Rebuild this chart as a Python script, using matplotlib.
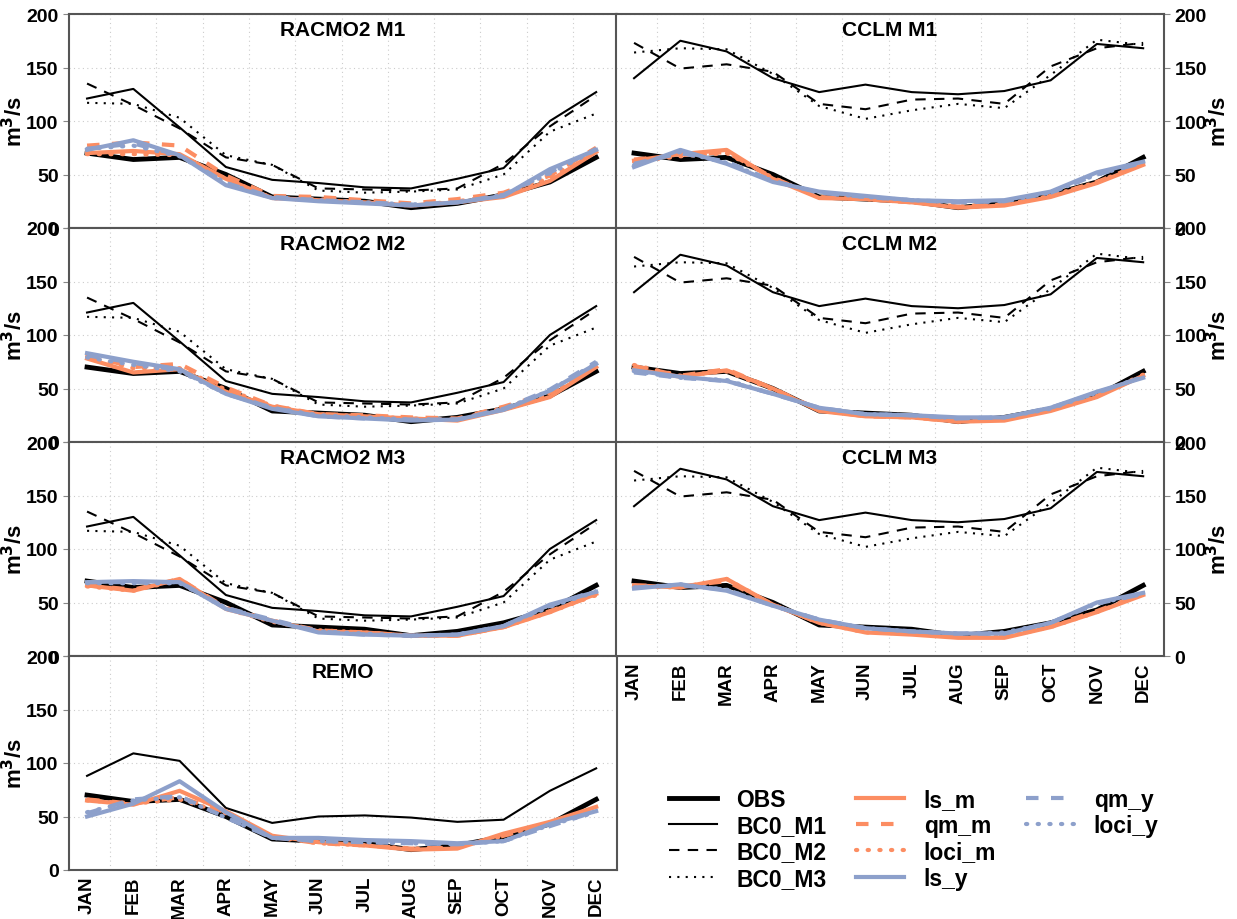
import numpy as np
import matplotlib
matplotlib.use("Agg")
import matplotlib.pyplot as plt
from matplotlib.lines import Line2D

plt.rcParams["font.family"] = ["Liberation Sans", "DejaVu Sans"]
plt.rcParams["font.weight"] = "bold"

months = ["JAN", "FEB", "MAR", "APR", "MAY", "JUN", "JUL", "AUG", "SEP", "OCT", "NOV", "DEC"]

obs = [70, 64, 66, 50, 29, 27, 25, 19, 23, 31, 43, 66]

# uncorrected model runs
racmo_bc0_m1 = [121, 130, 94, 57, 45, 42, 38, 37, 46, 56, 100, 127]
racmo_bc0_m2 = [135, 115, 93, 66, 59, 37, 36, 35, 37, 60, 95, 124]
racmo_bc0_m3 = [117, 116, 103, 68, 59, 35, 33, 34, 36, 50, 90, 107]
cclm_bc0_m1 = [140, 175, 165, 140, 127, 134, 127, 125, 128, 138, 172, 168]
cclm_bc0_m2 = [173, 149, 153, 146, 116, 111, 120, 121, 116, 151, 168, 173]
cclm_bc0_m3 = [164, 168, 167, 144, 114, 102, 110, 116, 112, 143, 176, 171]
remo_bc0_m1 = [88, 109, 102, 58, 44, 50, 51, 49, 45, 47, 74, 95]

# RACMO2 M1
racmo1_ls_m = [70, 72, 69, 46, 28, 26, 24, 21, 24, 29, 44, 71]
racmo1_qm_m = [77, 80, 77, 49, 30, 29, 26, 23, 27, 33, 49, 75]
racmo1_loci_m = [69, 69, 68, 46, 28, 27, 24, 21, 25, 31, 47, 73]
racmo1_ls_y = [73, 82, 68, 40, 28, 25, 23, 21, 24, 30, 55, 73]
racmo1_qm_y = [74, 79, 68, 42, 29, 26, 24, 22, 24, 31, 52, 74]
racmo1_loci_y = [74, 77, 67, 42, 28, 26, 24, 22, 24, 31, 51, 73]
# RACMO2 M2
racmo2_ls_m = [78, 65, 68, 47, 33, 26, 24, 22, 20, 30, 42, 70]
racmo2_qm_m = [81, 70, 73, 51, 34, 26, 25, 23, 22, 33, 46, 72]
racmo2_loci_m = [80, 69, 69, 49, 34, 26, 24, 22, 21, 32, 45, 73]
racmo2_ls_y = [83, 75, 68, 45, 31, 24, 22, 20, 21, 30, 48, 73]
racmo2_qm_y = [81, 74, 67, 45, 32, 24, 22, 21, 21, 31, 49, 75]
racmo2_loci_y = [79, 72, 66, 45, 32, 25, 23, 21, 21, 31, 48, 74]
# RACMO2 M3
racmo3_ls_m = [66, 61, 72, 44, 33, 23, 22, 19, 19, 27, 41, 58]
racmo3_qm_m = [66, 62, 72, 45, 33, 24, 22, 19, 19, 27, 42, 57]
racmo3_loci_m = [65, 61, 71, 44, 32, 24, 22, 19, 19, 27, 41, 57]
racmo3_ls_y = [69, 70, 69, 44, 33, 22, 20, 19, 20, 28, 48, 60]
racmo3_qm_y = [69, 69, 69, 45, 34, 23, 20, 19, 20, 28, 47, 61]
racmo3_loci_y = [68, 68, 68, 45, 33, 23, 21, 19, 20, 28, 46, 60]
# CCLM M1
cclm1_ls_m = [63, 69, 73, 46, 28, 27, 24, 19, 21, 29, 42, 59]
cclm1_qm_m = [64, 68, 71, 47, 29, 27, 24, 20, 22, 30, 43, 60]
cclm1_loci_m = [62, 67, 70, 47, 29, 27, 24, 20, 22, 30, 43, 60]
cclm1_ls_y = [57, 73, 60, 43, 34, 30, 26, 25, 26, 34, 52, 62]
cclm1_qm_y = [60, 70, 62, 44, 33, 29, 26, 24, 25, 33, 50, 61]
cclm1_loci_y = [59, 71, 61, 44, 33, 29, 26, 24, 25, 33, 50, 61]
# CCLM M2
cclm2_ls_m = [68, 61, 67, 50, 29, 24, 23, 19, 20, 29, 42, 62]
cclm2_qm_m = [71, 62, 68, 50, 30, 24, 23, 19, 21, 30, 43, 62]
cclm2_loci_m = [72, 62, 66, 49, 30, 25, 23, 20, 21, 30, 43, 63]
cclm2_ls_y = [67, 61, 57, 45, 32, 26, 25, 23, 23, 32, 47, 60]
cclm2_qm_y = [65, 60, 57, 45, 32, 26, 25, 22, 23, 32, 46, 61]
cclm2_loci_y = [66, 60, 58, 45, 32, 26, 25, 22, 23, 31, 46, 61]
# CCLM M3
cclm3_ls_m = [66, 64, 72, 48, 31, 22, 20, 17, 17, 27, 41, 57]
cclm3_qm_m = [66, 65, 70, 48, 31, 23, 21, 18, 18, 28, 42, 58]
cclm3_loci_m = [65, 64, 72, 48, 31, 22, 21, 18, 18, 27, 41, 58]
cclm3_ls_y = [63, 67, 61, 47, 34, 26, 23, 21, 21, 31, 50, 59]
cclm3_qm_y = [64, 66, 62, 47, 34, 26, 23, 21, 21, 31, 49, 58]
cclm3_loci_y = [64, 67, 62, 47, 34, 26, 23, 21, 22, 31, 49, 58]
# REMO
remo_ls_m = [65, 61, 74, 55, 32, 26, 23, 19, 20, 34, 45, 59]
remo_qm_m = [66, 62, 68, 54, 31, 25, 23, 20, 21, 32, 44, 58]
remo_loci_m = [65, 62, 66, 53, 31, 25, 23, 20, 21, 32, 44, 58]
remo_ls_y = [50, 62, 83, 54, 30, 30, 28, 27, 25, 27, 43, 55]
remo_qm_y = [53, 66, 69, 49, 30, 27, 26, 25, 24, 27, 41, 55]
remo_loci_y = [54, 65, 68, 49, 30, 27, 26, 25, 24, 27, 42, 54]

ORANGE = "#FC8D62"
BLUE = "#8DA0CB"

racmo_bc0 = [racmo_bc0_m1, racmo_bc0_m2, racmo_bc0_m3]
cclm_bc0 = [cclm_bc0_m1, cclm_bc0_m2, cclm_bc0_m3]

# (title, row, col, bc0 list, corrected series)
panels = [
    ("RACMO2 M1", 0, 0, racmo_bc0, [racmo1_ls_m, racmo1_qm_m, racmo1_loci_m, racmo1_ls_y, racmo1_qm_y, racmo1_loci_y]),
    ("RACMO2 M2", 1, 0, racmo_bc0, [racmo2_ls_m, racmo2_qm_m, racmo2_loci_m, racmo2_ls_y, racmo2_qm_y, racmo2_loci_y]),
    ("RACMO2 M3", 2, 0, racmo_bc0, [racmo3_ls_m, racmo3_qm_m, racmo3_loci_m, racmo3_ls_y, racmo3_qm_y, racmo3_loci_y]),
    ("REMO", 3, 0, [remo_bc0_m1], [remo_ls_m, remo_qm_m, remo_loci_m, remo_ls_y, remo_qm_y, remo_loci_y]),
    ("CCLM M1", 0, 1, cclm_bc0, [cclm1_ls_m, cclm1_qm_m, cclm1_loci_m, cclm1_ls_y, cclm1_qm_y, cclm1_loci_y]),
    ("CCLM M2", 1, 1, cclm_bc0, [cclm2_ls_m, cclm2_qm_m, cclm2_loci_m, cclm2_ls_y, cclm2_qm_y, cclm2_loci_y]),
    ("CCLM M3", 2, 1, cclm_bc0, [cclm3_ls_m, cclm3_qm_m, cclm3_loci_m, cclm3_ls_y, cclm3_qm_y, cclm3_loci_y]),
]

bc0_styles = [dict(ls="-"), dict(ls=(0, (5, 4))), dict(ls=(0, (1, 3)))]
corr_styles = [
    dict(color=ORANGE, ls="-"),
    dict(color=ORANGE, ls=(0, (3, 3))),
    dict(color=ORANGE, ls=(0, (0.3, 2.5)), dash_capstyle="round"),
    dict(color=BLUE, ls="-"),
    dict(color=BLUE, ls=(0, (3, 3))),
    dict(color=BLUE, ls=(0, (0.3, 2.5)), dash_capstyle="round"),
]
bc0_labels = ["BC0_M1", "BC0_M2", "BC0_M3"]
corr_labels = ["ls_m", "qm_m", "loci_m", "ls_y", "qm_y", "loci_y"]

W, H = 1237, 920
fig = plt.figure(figsize=(W / 100, H / 100), dpi=100)

left_x = [69, 616]
width = 548
tops = [15, 229, 443, 657]
height = 214

x = np.arange(1, 13)
handles = {}

for title, row, col, bc0, corr in panels:
    ax = fig.add_axes([left_x[col] / W, 1 - (tops[row] + height) / H, width / W, height / H])
    h, = ax.plot(x, obs, color="black", lw=3.5, zorder=3)
    handles["OBS"] = h
    for i, ser in enumerate(bc0):
        h, = ax.plot(x, ser, color="black", lw=1.5, zorder=2, **bc0_styles[i])
        handles[bc0_labels[i]] = h
    for i, ser in enumerate(corr):
        h, = ax.plot(x, ser, lw=3, zorder=4, **corr_styles[i])
        handles[corr_labels[i]] = h

    ax.set_xlim(0.61, 12.45)
    ax.set_ylim(0, 200)
    ax.set_yticks([0, 50, 100, 150, 200])
    ax.set_xticks(x)
    ax.set_xticks(np.arange(1.5, 12, 1), minor=True)
    ax.grid(which="minor", axis="x", color="#cccccc", ls=(0, (1, 3)), lw=0.8)
    ax.grid(which="major", axis="y", color="#cccccc", ls=(0, (1, 3)), lw=0.8)
    ax.tick_params(which="minor", length=0)
    ax.tick_params(axis="x", which="major", length=0, pad=4)
    ax.tick_params(axis="y", length=4, color="#888888", labelsize=14)
    for s in ax.spines.values():
        s.set_color("#555555")
        s.set_linewidth(1.5)

    if (row == 3 and col == 0) or (row == 2 and col == 1):
        ax.set_xticklabels(months, rotation=90, fontsize=13.5, fontweight="bold")
    else:
        ax.set_xticklabels([])

    for lab in ax.get_yticklabels():
        lab.set_fontweight("bold")
    ax.set_ylabel("m$^\\mathbf{3}$/s", fontsize=16, fontweight="bold")
    if col == 1:
        ax.yaxis.tick_right()
        ax.yaxis.set_label_position("right")
        ax.yaxis.set_label_coords(1.076, 0.5)
    else:
        ax.yaxis.set_label_coords(-0.077, 0.5)
    ax.text(0.5, 0.97, title, transform=ax.transAxes, ha="center", va="top",
            fontsize=15, fontweight="bold")

order = ["OBS", "BC0_M1", "BC0_M2", "BC0_M3", "ls_m", "qm_m", "loci_m", "ls_y", "qm_y", "loci_y"]
leg_handles = [handles[k] for k in order]
leg_labels = list(order)
# two blank slots so the columns fill as 4, 4, 2
blank = Line2D([], [], lw=0, alpha=0)
leg_handles += [blank, blank]
leg_labels += ["", ""]
fig.legend(leg_handles, leg_labels, loc="upper left",
           bbox_to_anchor=(648 / W, 1 - 768 / H), ncol=3, frameon=False,
           handlelength=2.1, handletextpad=0.85, columnspacing=1.3, labelspacing=0.15,
           prop={"weight": "bold", "size": 16.5})

fig.savefig("out.png", dpi=100)
